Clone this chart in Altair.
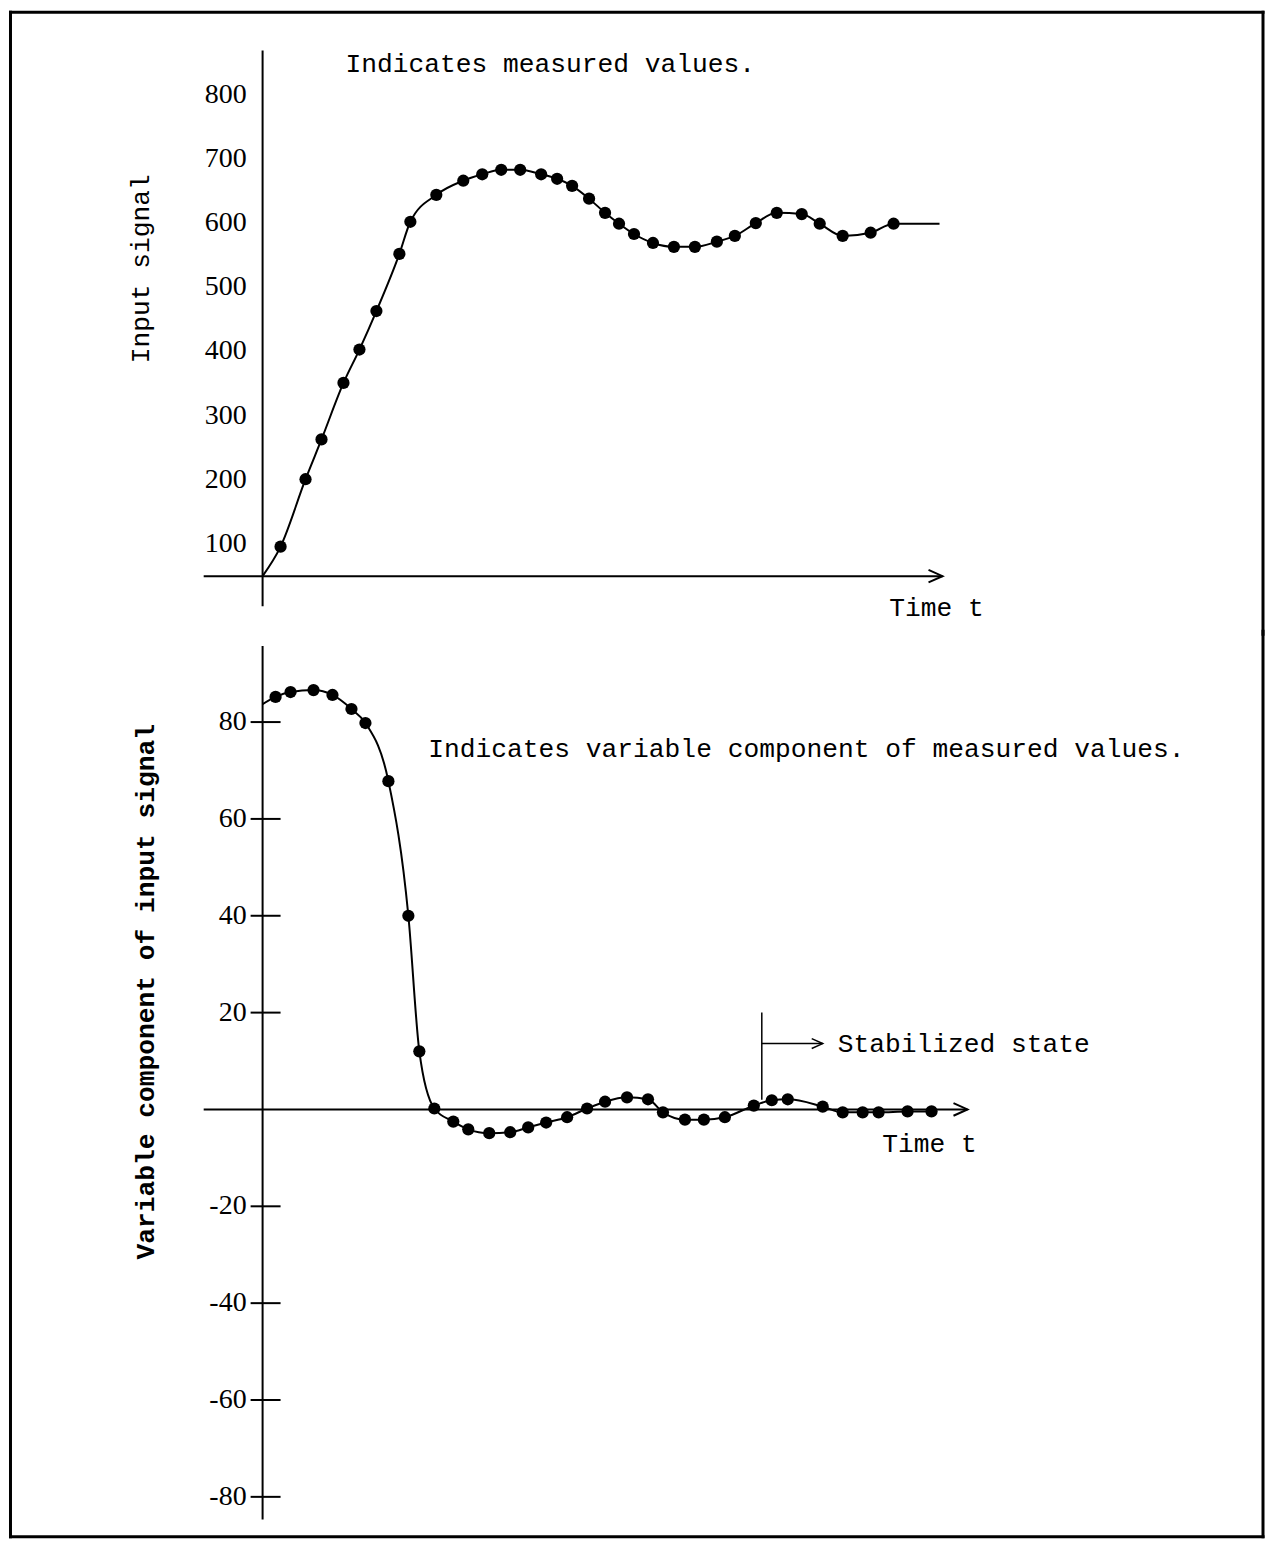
import altair as alt
import pandas as pd

# ---------------- data ----------------
# Top panel: measured input signal
top_t = [1.8, 4.3, 5.9, 8.1, 9.7, 11.4, 13.7, 14.8, 17.4, 20.1, 22.0, 23.9, 25.8, 27.9,
         29.5, 31.0, 32.7, 34.3, 35.7, 37.2, 39.1, 41.2, 43.3, 45.5, 47.3, 49.4, 51.5,
         54.0, 55.8, 58.1, 60.9, 63.2]
top_v = [96, 201, 263, 351, 403, 463, 552, 602, 644, 666, 676, 683, 683, 676,
         669, 658, 638, 616, 599, 583, 569, 563, 563, 571, 580, 600, 616,
         614, 599, 580, 585, 599]
top_curve_start = (0.0, 50.0)
top_curve_end = (67.8, 599.0)
top_ticks = [100, 200, 300, 400, 500, 600, 700, 800]

# Bottom panel: variable component of measured values
bot_t = [1.3, 2.8, 5.1, 7.0, 8.9, 10.3, 12.6, 14.6, 15.7, 17.2, 19.1, 20.6, 22.7, 24.8,
         26.6, 28.4, 30.5, 32.5, 34.3, 36.5, 38.6, 40.1, 42.3, 44.2, 46.3, 49.2, 51.0,
         52.6, 56.1, 58.1, 60.1, 61.7, 64.6, 67.0]
bot_v = [85.2, 86.2, 86.6, 85.6, 82.7, 79.8, 67.8, 40.0, 12.0, 0.2, -2.5, -4.1, -4.9, -4.7,
         -3.7, -2.7, -1.6, 0.2, 1.6, 2.5, 2.1, -0.6, -2.1, -2.1, -1.6, 0.8, 1.9,
         2.1, 0.6, -0.6, -0.6, -0.6, -0.4, -0.4]
bot_curve_start = (0.0, 83.7)
bot_ticks = [80, 60, 40, 20, -20, -40, -60, -80]

# ---------------- layout constants ----------------
W = 1258
H_TOP = 622
H_BOT = 909
X_DOMAIN = [-25.4, 100.4]
TOP_Y_DOMAIN = [-35.77, 931.57]
BOT_Y_DOMAIN = [-88.66, 98.76]

TEXT_FONT = "Liberation Mono"
TICK_FONT = "Liberation Serif"
FS = 26.3
BLACK = "#000000"
CHEVRON = "M-1,-0.45L0,0L-1,0.45"
LABEL_T = -1.6          # right edge of the tick labels (time units)
TICK_T0, TICK_T1 = -1.2, 1.8

xs = alt.Scale(domain=X_DOMAIN, nice=False, zero=False)
ys_top = alt.Scale(domain=TOP_Y_DOMAIN, nice=False, zero=False)
ys_bot = alt.Scale(domain=BOT_Y_DOMAIN, nice=False, zero=False)


def X(field):
    return alt.X(field, type="quantitative", scale=xs, axis=None)


def Y(field, ys):
    return alt.Y(field, type="quantitative", scale=ys, axis=None)


def rule(**enc):
    return alt.Chart(pd.DataFrame({"a": [0]})).mark_rule(
        color=BLACK, strokeWidth=3, strokeCap="square").encode(**enc)


FL, FR = 1.5, W - 2   # frame x positions (kept inside the view)


def frame(top=False, bottom=False, height=0):
    y0 = 2 if top else 0
    y1 = height - 2 if bottom else height + 3
    layers = [
        rule(x=alt.value(FL), y=alt.value(y0), y2=alt.value(y1)),
        rule(x=alt.value(FR), y=alt.value(y0), y2=alt.value(y1)),
    ]
    if top:
        layers.append(rule(x=alt.value(FL), x2=alt.value(FR), y=alt.value(2)))
    if bottom:
        layers.append(rule(x=alt.value(FL), x2=alt.value(FR), y=alt.value(height - 2)))
    return layers


def texts(df, ys, align, angle=0, weight="normal", font=TEXT_FONT, size=FS):
    return alt.Chart(df).mark_text(
        font=font, fontSize=size, color=BLACK, align=align, baseline="middle",
        angle=angle, fontWeight=weight
    ).encode(x=X("t"), y=Y("v", ys), text="label:N")


def tick_labels(values, ys):
    df = pd.DataFrame({"t": [LABEL_T] * len(values), "v": values,
                       "label": [str(v) for v in values]})
    return texts(df, ys, "right", font=TICK_FONT, size=28)


# ---------------- top panel ----------------
top_pts = pd.DataFrame({"t": top_t, "v": top_v})
top_curve = pd.DataFrame({
    "t": [top_curve_start[0]] + top_t + [top_curve_end[0]],
    "v": [top_curve_start[1]] + top_v + [top_curve_end[1]],
})

top_yaxis = alt.Chart(pd.DataFrame({"t": [0.0], "v0": [3.0], "v1": [869.0]})).mark_rule(
    color=BLACK, strokeWidth=2).encode(x=X("t"), y=Y("v0", ys_top), y2="v1:Q")

top_xaxis = alt.Chart(pd.DataFrame({"t0": [-5.9], "t1": [68.1], "v": [50.0]})).mark_rule(
    color=BLACK, strokeWidth=2).encode(x=X("t0"), x2="t1:Q", y=Y("v", ys_top))

top_arrow = alt.Chart(pd.DataFrame({"t": [68.1], "v": [50.0]})).mark_point(
    shape=CHEVRON, filled=False, size=784, strokeWidth=2, color=BLACK, opacity=1).encode(
    x=X("t"), y=Y("v", ys_top))

top_line = alt.Chart(top_curve).mark_line(
    color=BLACK, strokeWidth=2, interpolate="monotone").encode(x=X("t"), y=Y("v", ys_top))

top_dots = alt.Chart(top_pts).mark_circle(size=150, color=BLACK, opacity=1).encode(
    x=X("t"), y=Y("v", ys_top))

top_title = texts(pd.DataFrame({"t": [8.3], "v": [847.6], "label": ["Indicates measured values."]}),
                  ys_top, "left")
top_time = texts(pd.DataFrame({"t": [67.5], "v": [0.0], "label": ["Time t"]}), ys_top, "center")
top_ylab = texts(pd.DataFrame({"t": [-12.2], "v": [528.8], "label": ["Input signal"]}),
                 ys_top, "center", angle=270)

top_panel = alt.layer(
    top_yaxis, top_xaxis, top_arrow, top_line, top_dots, tick_labels(top_ticks, ys_top),
    top_title, top_time, top_ylab,
    *frame(top=True, height=H_TOP)
).properties(width=W, height=H_TOP)

# ---------------- bottom panel ----------------
bot_pts = pd.DataFrame({"t": bot_t, "v": bot_v})
bot_curve = pd.DataFrame({
    "t": [bot_curve_start[0]] + bot_t,
    "v": [bot_curve_start[1]] + bot_v,
})

bot_yaxis = alt.Chart(pd.DataFrame({"t": [0.0], "v0": [-84.7], "v1": [95.7]})).mark_rule(
    color=BLACK, strokeWidth=2).encode(x=X("t"), y=Y("v0", ys_bot), y2="v1:Q")

bot_tickmarks = alt.Chart(pd.DataFrame({"t0": [TICK_T0] * len(bot_ticks),
                                        "t1": [TICK_T1] * len(bot_ticks),
                                        "v": bot_ticks})).mark_rule(
    color=BLACK, strokeWidth=2).encode(x=X("t0"), x2="t1:Q", y=Y("v", ys_bot))

bot_xaxis = alt.Chart(pd.DataFrame({"t0": [-5.9], "t1": [70.6], "v": [0.0]})).mark_rule(
    color=BLACK, strokeWidth=2).encode(x=X("t0"), x2="t1:Q", y=Y("v", ys_bot))

bot_arrow = alt.Chart(pd.DataFrame({"t": [70.6], "v": [0.0]})).mark_point(
    shape=CHEVRON, filled=False, size=784, strokeWidth=2, color=BLACK, opacity=1).encode(
    x=X("t"), y=Y("v", ys_bot))

bot_line = alt.Chart(bot_curve).mark_line(
    color=BLACK, strokeWidth=2, interpolate="monotone").encode(x=X("t"), y=Y("v", ys_bot))

bot_dots = alt.Chart(bot_pts).mark_circle(size=150, color=BLACK, opacity=1).encode(
    x=X("t"), y=Y("v", ys_bot))

stab_v = alt.Chart(pd.DataFrame({"t": [50.0], "v0": [2.0], "v1": [20.0]})).mark_rule(
    color=BLACK, strokeWidth=1.5).encode(x=X("t"), y=Y("v0", ys_bot), y2="v1:Q")

stab_h = alt.Chart(pd.DataFrame({"t0": [50.0], "t1": [56.1], "v": [13.6]})).mark_rule(
    color=BLACK, strokeWidth=1.5).encode(x=X("t0"), x2="t1:Q", y=Y("v", ys_bot))

stab_arrow = alt.Chart(pd.DataFrame({"t": [56.1], "v": [13.6]})).mark_point(
    shape=CHEVRON, filled=False, size=484, strokeWidth=1.5, color=BLACK, opacity=1).encode(
    x=X("t"), y=Y("v", ys_bot))

bot_title = texts(pd.DataFrame({"t": [16.6], "v": [74.4],
                                "label": ["Indicates variable component of measured values."]}),
                  ys_bot, "left")
bot_time = texts(pd.DataFrame({"t": [66.8], "v": [-7.2], "label": ["Time t"]}), ys_bot, "center")
bot_stab = texts(pd.DataFrame({"t": [57.6], "v": [13.6], "label": ["Stabilized state"]}),
                 ys_bot, "left")
bot_ylab = texts(pd.DataFrame({"t": [-11.7], "v": [24.3],
                               "label": ["Variable component of input signal"]}),
                 ys_bot, "center", angle=270, weight="bold")

bot_panel = alt.layer(
    bot_yaxis, bot_tickmarks, bot_xaxis, bot_arrow, bot_line, bot_dots,
    stab_v, stab_h, stab_arrow, tick_labels(bot_ticks, ys_bot),
    bot_title, bot_time, bot_stab, bot_ylab,
    *frame(bottom=True, height=H_BOT)
).properties(width=W, height=H_BOT)

chart = alt.vconcat(top_panel, bot_panel, spacing=0, bounds="flush").properties(
    padding=0, background="white"
).configure_view(strokeWidth=0)

chart.save("out.html", embed_options={"renderer": "svg", "actions": False})
